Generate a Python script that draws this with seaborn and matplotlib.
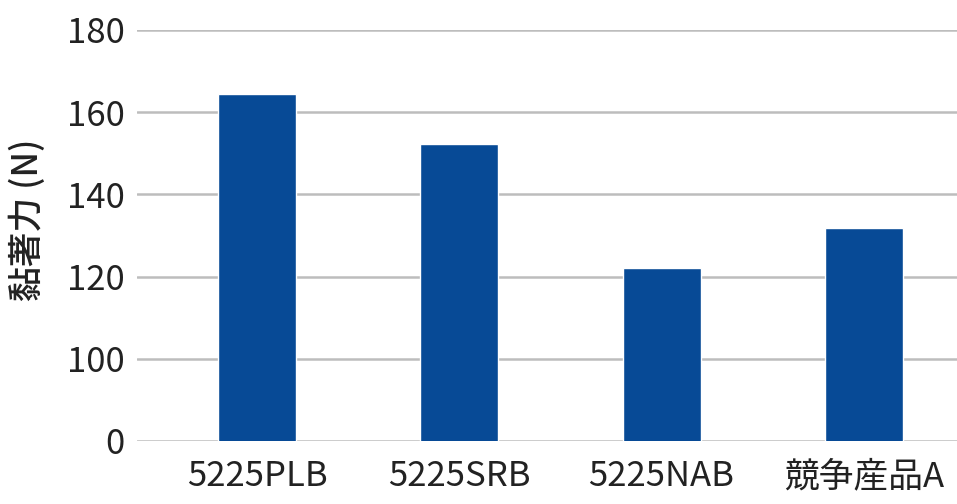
import matplotlib
matplotlib.use("Agg")
import matplotlib.pyplot as plt
import seaborn as sns
import pandas as pd

categories = ["5225PLB", "5225SRB", "5225NAB", "競争産品A"]
values = [164.5, 152.3, 122.0, 131.8]
ytick_values = [80, 100, 120, 140, 160, 180]
ytick_labels = ["0", "100", "120", "140", "160", "180"]
ylabel = "黏著力 (N)"

sns.set_theme(style="white")
plt.rcParams["font.family"] = ["Noto Sans CJK JP", "DejaVu Sans"]

df = pd.DataFrame({"cat": categories, "val": values})

fig = plt.figure(figsize=(9.57, 5.04), dpi=100)
ax = fig.add_axes([137 / 957, 63 / 504, 820 / 957, 411 / 504])

sns.barplot(data=df, x="cat", y="val", color="#074A96", saturation=1,
            width=0.386, ax=ax, zorder=3)

ax.set_ylim(80, 180)
ax.set_xlim(-0.594, 3.461)
ax.set_yticks(ytick_values)
ax.set_yticklabels(ytick_labels)
ax.yaxis.grid(True, color="#BDBDBD", linewidth=1.8, zorder=0)
ax.xaxis.grid(False)
for s in ax.spines.values():
    s.set_visible(False)
ax.tick_params(axis="both", length=0, labelsize=25, colors="#222222")
ax.tick_params(axis="y", pad=9)
ax.tick_params(axis="x", pad=13)
ax.set_xlabel("")
ax.set_ylabel(ylabel, fontsize=25, fontweight="medium", color="#222222")
ax.yaxis.set_label_coords(-91 / 820, (441 - 220) / 411)

fig.savefig("out.png", dpi=100)
